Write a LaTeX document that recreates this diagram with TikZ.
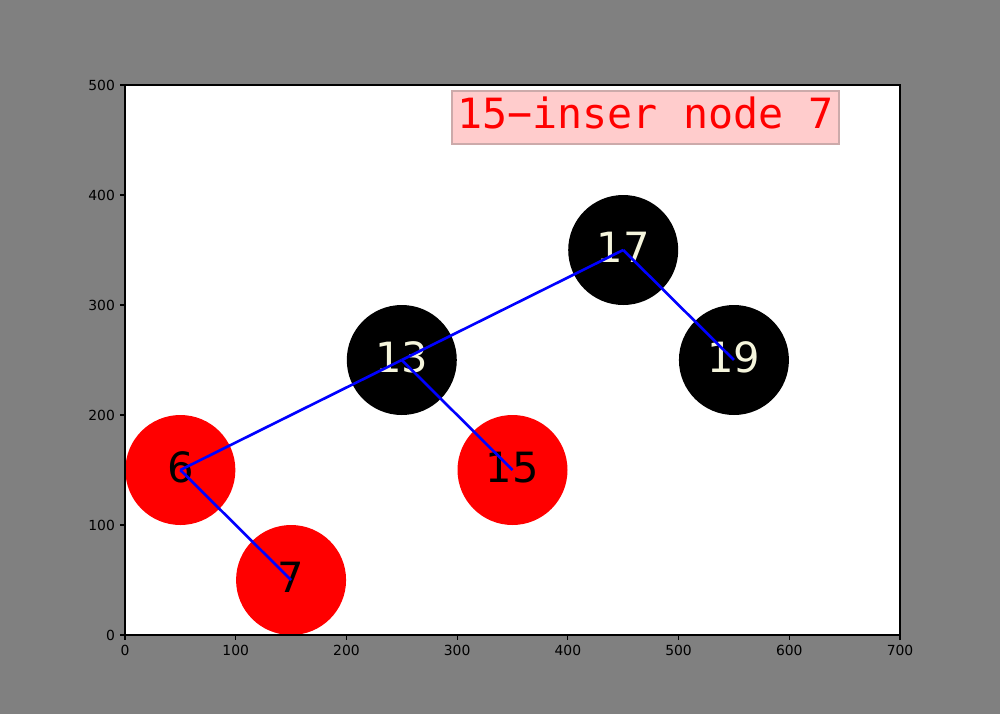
\documentclass[tikz,border=0pt]{standalone}
\usepackage{fontspec}
\setmainfont{DejaVu Sans}
\newfontfamily\monofont{DejaVu Sans Mono}
\definecolor{figgray}{RGB}{128,128,128}
\definecolor{beigetxt}{RGB}{245,245,220}
\definecolor{boxfill}{RGB}{255,204,204}
\definecolor{boxedge}{RGB}{204,170,170}
\begin{document}
\begin{tikzpicture}[x=0.72pt,y=-0.72pt,
  redn/.style={circle,fill=red,minimum size=79.2pt,inner sep=0pt,text=black,
    font=\fontsize{30}{36}\selectfont,text height=21.9pt,text depth=4.3pt},
  blackn/.style={redn,fill=black,text=beigetxt},
  edge/.style={draw=blue,line width=1.9pt},
  tick/.style={line width=0.8pt,black},
  ticklab/.style={font=\fontsize{10}{12}\selectfont,inner sep=0pt,text=black}]
\fill[figgray] (0,0) rectangle (1000,714);
\useasboundingbox (0,0) rectangle (1000,714);
\fill[white] (125,85) rectangle (900,635);
% nodes
\node[redn] (n6) at (180.36,470) {6};
\node[redn] (n7) at (291.07,580) {7};
\node[blackn] (n13) at (401.79,360) {13};
\node[redn] (n15) at (512.5,470) {15};
\node[blackn] (n17) at (623.21,250) {17};
\node[blackn] (n19) at (733.93,360) {19};
% edges (center to center)
\draw[edge] (n6.center) -- (n13.center);
\draw[edge] (n6.center) -- (n7.center);
\draw[edge] (n13.center) -- (n17.center);
\draw[edge] (n13.center) -- (n15.center);
\draw[edge] (n17.center) -- (n19.center);
% axes frame
\draw[tick] (125,85) rectangle (900,635);
\foreach \v in {0,100,...,700}{
  \draw[tick] ({125+\v*1.107143},635) -- ({125+\v*1.107143},639.9);
  \node[ticklab,anchor=north] (xl\v) at ({125+\v*1.107143},644.8) {\v};
}
\foreach \v in {0,100,...,500}{
  \draw[tick] (125,{635-\v*1.1}) -- (120.1,{635-\v*1.1});
  \node[ticklab,anchor=east] (yl\v) at (115.2,{635-\v*1.1}) {\v};
}
% title box
\node[fill=boxfill,draw=boxedge,line width=0.8pt,inner sep=0pt,
  minimum width=278.6pt,minimum height=38.2pt,text=red,
  font=\monofont\fontsize{30}{36}\selectfont,text height=22pt,text depth=6pt]
  (title) at (645.5,117.5) {15−inser node 7};
\end{tikzpicture}
\end{document}
